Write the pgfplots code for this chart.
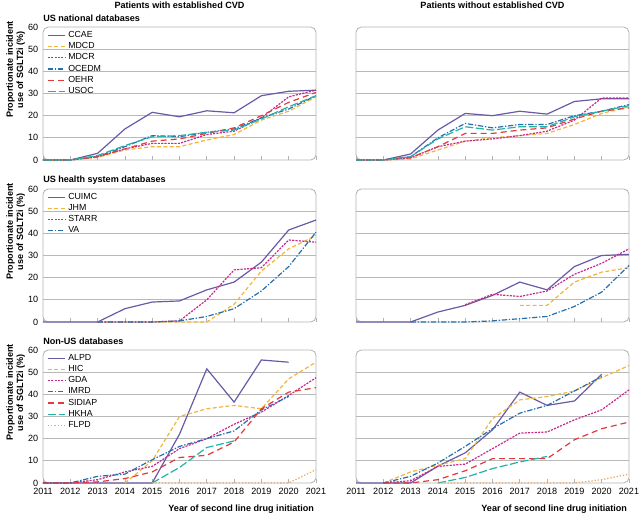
\documentclass[border=0pt]{standalone}
\usepackage{pgfplots}
\pgfplotsset{compat=1.18}
\usepackage{fontspec}
\setmainfont{Liberation Sans}
\definecolor{cPur}{HTML}{6A5AA5}
\definecolor{cYel}{HTML}{F2B53A}
\definecolor{cMag}{HTML}{C72A8E}
\definecolor{cBlu}{HTML}{2470AE}
\definecolor{cRed}{HTML}{E03A3C}
\definecolor{cTea}{HTML}{22B2A6}
\definecolor{cOra}{HTML}{F0A55E}
\pgfplotsset{
 panel/.style={scale only axis, width=204.75pt, height=99.75pt,
  xmin=2011, xmax=2021, ymin=0, ymax=60,
  xtick={2011,...,2021}, ytick={0,10,...,60},
  minor ytick={10,20,30,40,50}, yminorgrids, ymajorgrids=false,
  minor grid style={black!28, line width=0.6pt},
  axis line style={draw=none},
  axis background/.style={draw=black!30, rounded corners=4pt, line width=0.6pt},
  xtick pos=bottom, ytick pos=left, tick align=inside,
  major tick length=3pt, minor tick length=0pt,
  x tick style={black!30, line width=0.5pt}, y tick style={draw=none},
  tick label style={font=\fontsize{6.8}{8}\selectfont},
  /pgf/number format/assume math mode=true, /pgf/number format/1000 sep={},
  clip=false,
  every axis plot/.append style={line width=0.9pt, no marks},
  legend image code/.code={\draw[##1, line width=0.9pt] (0cm,0cm) -- (0.45cm,0cm);},
  legend style={at={(0.01,1.0)}, anchor=north west, draw=none, fill=none,
    font=\fontsize{6.6}{7.6}\selectfont, row sep=-1.7pt, inner sep=1pt},
  legend cell align=left,
  ylabel style={font=\bfseries\fontsize{6.8}{7.6}\selectfont, align=center, at={(axis description cs:-0.1,0.68)}, anchor=center},
 },
 s1/.style={cPur, solid},
 s2/.style={cYel, dash pattern=on 3pt off 1.8pt},
 s3/.style={cMag, dash pattern=on 1.6pt off 0.9pt},
 s4/.style={cBlu, dash pattern=on 4pt off 1.3pt on 1pt off 1.3pt},
 s5/.style={cRed, dash pattern=on 4.5pt off 3pt},
 s6/.style={cTea, dash pattern=on 6pt off 2pt},
 s7/.style={cOra, dash pattern=on 1pt off 1.4pt},
}
\newcommand{\ttl}[1]{\node[font=\bfseries\fontsize{6.8}{8}\selectfont] at ([yshift=16.5pt]rel axis cs:0.5,1) {#1};}
\newcommand{\plab}[1]{\node[anchor=south west, inner sep=0pt, font=\bfseries\fontsize{6.8}{8}\selectfont] at ([yshift=3.5pt]rel axis cs:0,1) {#1};}
\begin{document}
\begin{tikzpicture}
\useasboundingbox (0,0) rectangle (480pt,-385.5pt);
% ---------- top left
\begin{axis}[panel, at={(32.25pt,-20.25pt)}, anchor=north west, xticklabels={},
  ylabel={Proportionate incident\\use of SGLT2i (\%)}]
\addplot[s1] coordinates {(2011,0)(2012,0)(2013,3)(2014,14)(2015,21.5)(2016,19.5)(2017,22.2)(2018,21.3)(2019,29)(2020,31)(2021,31.5)};
\addplot[s2] coordinates {(2011,0)(2012,0)(2013,1.2)(2014,4.5)(2015,6)(2016,6)(2017,9)(2018,11.5)(2019,18)(2020,22)(2021,28.5)};
\addplot[s3] coordinates {(2011,0)(2012,0)(2013,1.5)(2014,5)(2015,7.5)(2016,7.5)(2017,11.5)(2018,13)(2019,19)(2020,28.5)(2021,31.5)};
\addplot[s4] coordinates {(2011,0)(2012,0)(2013,1.5)(2014,6)(2015,11)(2016,10.5)(2017,12.5)(2018,14)(2019,19)(2020,23)(2021,29)};
\addplot[s5] coordinates {(2011,0)(2012,0)(2013,1.5)(2014,5)(2015,8.5)(2016,9.5)(2017,12)(2018,14.5)(2019,20)(2020,26)(2021,30.5)};
\addplot[s6] coordinates {(2011,0)(2012,0)(2013,2)(2014,6.5)(2015,10.5)(2016,11)(2017,12.5)(2018,13.5)(2019,18.5)(2020,24)(2021,29)};
\legend{CCAE,MDCD,MDCR,OCEDM,OEHR,USOC}
\ttl{Patients with established CVD}
\plab{US national databases}
\end{axis}
% ---------- top right
\begin{axis}[panel, at={(267pt,-20.25pt)}, anchor=north west, xticklabels={}, yticklabels={}]
\addplot[s1] coordinates {(2011,0)(2012,0)(2013,2.7)(2014,13.5)(2015,21)(2016,20)(2017,22)(2018,20.7)(2019,26.4)(2020,27.6)(2021,27.6)};
\addplot[s2] coordinates {(2011,0)(2012,0)(2013,0.5)(2014,4.5)(2015,8.5)(2016,10)(2017,11)(2018,12)(2019,16)(2020,21)(2021,24)};
\addplot[s3] coordinates {(2011,0)(2012,0)(2013,1)(2014,6)(2015,8.5)(2016,9.5)(2017,11)(2018,13)(2019,18)(2020,28)(2021,28)};
\addplot[s4] coordinates {(2011,0)(2012,0)(2013,1.5)(2014,10)(2015,16.5)(2016,14.5)(2017,16)(2018,16)(2019,20)(2020,22)(2021,25)};
\addplot[s5] coordinates {(2011,0)(2012,0)(2013,1)(2014,6)(2015,12)(2016,12)(2017,13.5)(2018,14.5)(2019,18.5)(2020,22)(2021,23.5)};
\addplot[s6] coordinates {(2011,0)(2012,0)(2013,1.5)(2014,9.5)(2015,15)(2016,13.5)(2017,15)(2018,15)(2019,19.5)(2020,22)(2021,24.5)};
\ttl{Patients without established CVD}
\end{axis}
% ---------- middle left
\begin{axis}[panel, at={(32.25pt,-141.75pt)}, anchor=north west, xticklabels={},
  ylabel={Proportionate incident\\use of SGLT2i (\%)}]
\addplot[s1] coordinates {(2011,0)(2012,0)(2013,0)(2014,6)(2015,9)(2016,9.5)(2017,14.5)(2018,18)(2019,27)(2020,41.5)(2021,46)};
\addplot[s2] coordinates {(2013,0)(2014,0)(2015,0)(2016,0)(2017,0)(2018,8)(2019,23)(2020,33)(2021,39)};
\addplot[s3] coordinates {(2013,0)(2014,0)(2015,0)(2016,0.5)(2017,10)(2018,23.5)(2019,24.5)(2020,37)(2021,36)};
\addplot[s4] coordinates {(2013,0)(2014,0)(2015,0)(2016,0.5)(2017,2.5)(2018,6)(2019,14)(2020,25)(2021,40.5)};
\legend{CUIMC,JHM,STARR,VA}
\plab{US health system databases}
\end{axis}
% ---------- middle right
\begin{axis}[panel, at={(267pt,-141.75pt)}, anchor=north west, xticklabels={}, yticklabels={}]
\addplot[s1] coordinates {(2011,0)(2012,0)(2013,0)(2014,4.5)(2015,7.5)(2016,12)(2017,18)(2018,14.5)(2019,25)(2020,30)(2021,30.5)};
\addplot[s2] coordinates {(2017,7.5)(2018,7.5)(2019,18)(2020,22.5)(2021,24.5)};
\addplot[s3] coordinates {(2015,7.8)(2016,12.5)(2017,11.5)(2018,14)(2019,21.5)(2020,26.5)(2021,33)};
\addplot[s4] coordinates {(2013,0)(2014,0)(2015,0)(2016,0.5)(2017,1.5)(2018,2.5)(2019,7)(2020,13.5)(2021,25.5)};
\end{axis}
% ---------- bottom left
\begin{axis}[panel, at={(32.25pt,-262.5pt)}, anchor=north west,
  ylabel={Proportionate incident\\use of SGLT2i (\%)},
  xlabel={Year of second line drug initiation},
  xlabel style={font=\bfseries\fontsize{6.8}{8}\selectfont, at={(axis description cs:1.01,-0.2)}, anchor=east}]
\addplot[s1] coordinates {(2011,0)(2012,0)(2013,0)(2014,0)(2015,0)(2016,22)(2017,51.5)(2018,36.5)(2019,55.5)(2020,54.5)};
\addplot[s2] coordinates {(2014,0)(2015,10)(2016,30)(2017,33.5)(2018,35)(2019,33.5)(2020,47)(2021,54.5)};
\addplot[s3] coordinates {(2011,0)(2012,0)(2013,1.5)(2014,5)(2015,7.5)(2016,15.5)(2017,20)(2018,26.5)(2019,32)(2020,39.5)(2021,47.5)};
\addplot[s4] coordinates {(2011,0)(2012,0)(2013,3)(2014,4)(2015,10.5)(2016,16.5)(2017,20)(2018,23.5)(2019,33)(2020,39)};
\addplot[s5] coordinates {(2011,0)(2012,0)(2013,0.5)(2014,2)(2015,5)(2016,11.5)(2017,12.5)(2018,18.5)(2019,33.5)(2020,41)(2021,43)};
\addplot[s6] coordinates {(2015,0)(2016,7)(2017,16)(2018,19)};
\addplot[s7] coordinates {(2015,0)(2016,0)(2017,0)(2018,0)(2019,0)(2020,0)(2021,6)};
\legend{ALPD,HIC,GDA,IMRD,SIDIAP,HKHA,FLPD}
\plab{Non-US databases}
\end{axis}
% ---------- bottom right
\begin{axis}[panel, at={(267pt,-262.5pt)}, anchor=north west, yticklabels={},
  xlabel={Year of second line drug initiation},
  xlabel style={font=\bfseries\fontsize{6.8}{8}\selectfont, at={(axis description cs:1.01,-0.2)}, anchor=east}]
\addplot[s1] coordinates {(2011,0)(2012,0)(2013,0)(2014,7.6)(2015,13.6)(2016,24)(2017,41)(2018,35)(2019,37)(2020,49)};
\addplot[s2] coordinates {(2012,0)(2013,5)(2014,8)(2015,11)(2016,29)(2017,37.5)(2018,39)(2019,41.5)(2020,47.5)(2021,53)};
\addplot[s3] coordinates {(2012,0)(2013,1)(2014,7.5)(2015,8.5)(2016,15.5)(2017,22.5)(2018,23)(2019,28.5)(2020,33)(2021,42)};
\addplot[s4] coordinates {(2012,0)(2013,3)(2014,9)(2015,16.5)(2016,24.5)(2017,31.5)(2018,35)(2019,41.5)(2020,48)};
\addplot[s5] coordinates {(2012,0)(2013,0)(2014,1.5)(2015,5.5)(2016,11)(2017,11)(2018,11)(2019,19.5)(2020,24.5)(2021,27.5)};
\addplot[s6] coordinates {(2014,0)(2015,2.5)(2016,6.5)(2017,9.5)(2018,12)};
\addplot[s7] coordinates {(2014,0)(2015,0)(2016,0)(2017,0)(2018,0)(2019,0)(2020,1.5)(2021,4)};
\end{axis}
\end{tikzpicture}
\end{document}
